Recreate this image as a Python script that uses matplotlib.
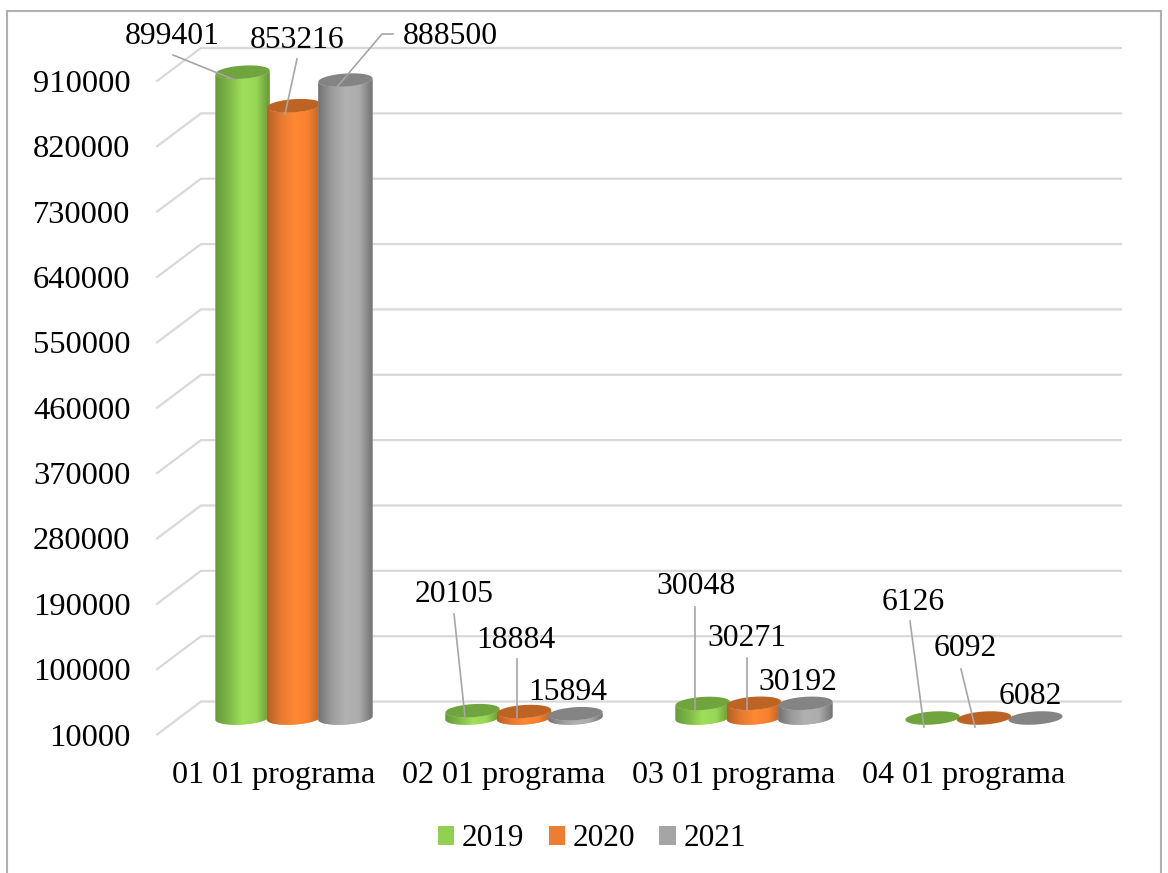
import numpy as np
import matplotlib
matplotlib.use("Agg")
import matplotlib.pyplot as plt
from matplotlib.colors import LinearSegmentedColormap
from matplotlib.patches import Patch, Polygon, Rectangle

categories = ["01 01 programa", "02 01 programa", "03 01 programa", "04 01 programa"]
years = ["2019", "2020", "2021"]
values_2019 = [899401, 20105, 30048, 6126]
values_2020 = [853216, 18884, 30271, 6092]
values_2021 = [888500, 15894, 30192, 6082]
y_ticks = [10000, 100000, 190000, 280000, 370000, 460000, 550000, 640000, 730000, 820000, 910000]

W, H = 1168, 873
plt.rcParams['font.family'] = ['Liberation Serif', 'DejaVu Serif']
FS = 22.8

fig = plt.figure(figsize=(W / 100, H / 100), dpi=100)
ax = fig.add_axes([179 / W, 1 - 734.5 / H, 920 / W, 686.5 / H])


def px(x, y):
    return x / W, 1 - y / H


# 3d look: depth of the chart floor, in axis units
dx = 0.0955
dy = 22700
half_w = 0.118
ell_b = 9000
ell_s = 2400
bar_step = 0.2236
base = y_ticks[0]

for v in y_ticks:
    ax.plot([-0.5 - dx, -0.5 + dx, 3.5 + dx], [v - dy, v + dy, v + dy],
            color="#d9d9d9", lw=1.6, solid_joinstyle="miter", zorder=1, clip_on=False)

legend_cols = ["#92d050", "#ed7d31", "#a5a5a5"]
body_cols = [["#669a3a", "#7fb848", "#9fdf5a", "#98d655", "#659838"],
             ["#b85f26", "#e47a30", "#ff8833", "#f5812f", "#b9602a"],
             ["#727272", "#9c9c9c", "#b2b2b2", "#acacac", "#727272"]]
top_cols = ["#70a43c", "#bd6324", "#848484"]
t = np.linspace(0, np.pi, 60)


def ell_half(xc, yc, lower):
    # half of a tilted ellipse going left to right
    xs = xc - half_w * np.cos(t)
    sign = -1 if lower else 1
    ys = yc + sign * ell_b * np.sin(t) + ell_s * (xs - xc) / half_w
    return np.column_stack([xs, ys])


z = 3
for s, vals in enumerate([values_2019, values_2020, values_2021]):
    cmap = LinearSegmentedColormap.from_list("c%d" % s, body_cols[s])
    for i, v in enumerate(vals):
        xc = i + (s - 1) * bar_step
        top = max(v, base)
        if top > base:
            outline = np.vstack([ell_half(xc, base, True), ell_half(xc, top, True)[::-1]])
            ax.add_patch(Polygon(outline, closed=True, fc=cmap(0.5), ec="none", zorder=z))
            im = ax.imshow(np.linspace(0, 1, 128).reshape(1, -1), cmap=cmap, aspect="auto",
                           extent=[xc - half_w, xc + half_w, base - 3 * ell_b, top + 3 * ell_b],
                           zorder=z + 0.1)
            clip = Polygon(outline, closed=True, transform=ax.transData, fc="none", ec="none")
            ax.add_patch(clip)
            im.set_clip_path(clip)
        cap = np.vstack([ell_half(xc, top, False), ell_half(xc, top, True)[::-1]])
        ax.add_patch(Polygon(cap, closed=True, fc=top_cols[s], ec="none", zorder=z + 0.2))
        z += 1

ax.set_xlim(-0.5, 3.5)
ax.set_ylim(base - dy, y_ticks[-1] + dy)
ax.set_aspect("auto")
for sp in ax.spines.values():
    sp.set_visible(False)
ax.patch.set_alpha(0)

# tick labels sit on the front edge of the floor
ax.set_yticks([v - dy for v in y_ticks], labels=[str(v) for v in y_ticks])
ax.set_xticks([i - 0.09 for i in range(4)], labels=categories)
ax.tick_params(axis="y", length=0, pad=35, labelsize=23.4)
ax.tick_params(axis="x", length=0, pad=19, labelsize=23.1)

# data labels and leader lines (placed by hand, like the original)
all_values = values_2019 + values_2020 + values_2021
label_xy = [(172, 36), (454, 594), (696, 587), (913, 602),
            (297, 40), (516, 640), (747, 638), (965, 649),
            (450, 36), (568, 693), (798, 682), (1030, 697)]
for v, (x, y) in zip(all_values, label_xy):
    fx, fy = px(x, y)
    fig.text(fx, fy, str(v), ha="center", va="center", fontsize=FS, color="black", zorder=40)

leaders = [[(173, 55), (235, 80)], [(297, 59), (285, 114)], [(393, 34), (382, 34), (337, 87)],
           [(454, 614), (465, 717)], [(517, 659), (517, 717)],
           [(695, 607), (695, 710)], [(747, 658), (747, 710)],
           [(910, 621), (924, 727)], [(961, 669), (975, 727)]]
for pts in leaders:
    xy = np.array([px(a, b) for a, b in pts])
    fig.add_artist(plt.Line2D(xy[:, 0], xy[:, 1], color="#a6a6a6", lw=1.2, zorder=30))

handles = [Patch(fc=c, ec="none", label=y) for c, y in zip(legend_cols, years)]
fig.legend(handles=handles, loc="center", bbox_to_anchor=px(592, 839), ncol=3, frameon=False,
           fontsize=22.5, handlelength=0.52, handleheight=0.52, handletextpad=0.26,
           columnspacing=0.77, borderpad=0, borderaxespad=0)

# outer frame, cut off at the bottom of the picture
x0, y0 = px(7, 880)
x1, y1 = px(1160.5, 10.5)
fig.add_artist(Rectangle((x0, y0), x1 - x0, y1 - y0, transform=fig.transFigure,
                         fc="none", ec="#b0b0b0", lw=1.5))

fig.savefig("out.png", dpi=100, facecolor="white")
